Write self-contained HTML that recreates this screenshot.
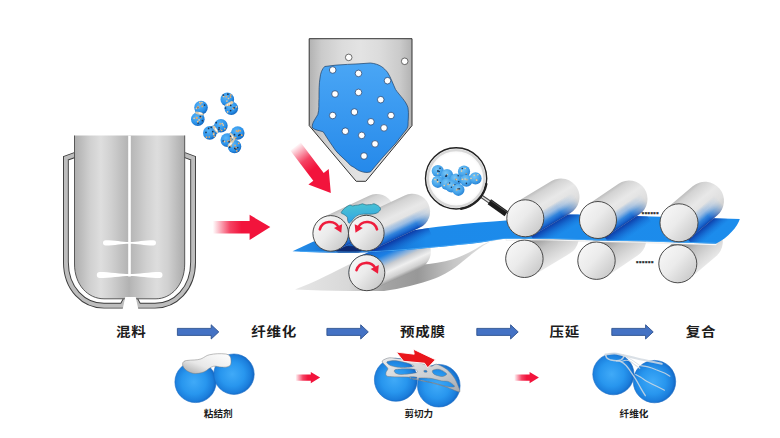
<!DOCTYPE html>
<html lang="zh"><head><meta charset="utf-8"><title>干法电极工艺流程</title>
<style>
html,body{margin:0;padding:0;background:#fff}
body{width:780px;height:438px;overflow:hidden;font-family:"Liberation Sans","Noto Sans CJK SC",sans-serif}
svg{display:block}
text{font-family:"Liberation Sans","Noto Sans CJK SC",sans-serif;font-weight:bold;fill:#1c1c1c}
</style></head><body>
<svg width="780" height="438" viewBox="0 0 780 438">
<defs>
<linearGradient id="tankL" x1="0" x2="1" y1="0" y2="0"><stop offset="0" stop-color="#aeaeae"/><stop offset="0.28" stop-color="#d0d0d0"/><stop offset="0.47" stop-color="#dedede"/><stop offset="0.66" stop-color="#d0d0d0"/><stop offset="1" stop-color="#b0b0b0"/></linearGradient>
<linearGradient id="tankR" x1="0" x2="1" y1="0" y2="0"><stop offset="0" stop-color="#b4b4b4"/><stop offset="0.3" stop-color="#d0d0d0"/><stop offset="0.5" stop-color="#dddddd"/><stop offset="0.7" stop-color="#d0d0d0"/><stop offset="1" stop-color="#ababab"/></linearGradient>
<linearGradient id="hop" x1="0" x2="1" y1="0" y2="0"><stop offset="0" stop-color="#b2b2b2"/><stop offset="0.12" stop-color="#cbcbcb"/><stop offset="0.32" stop-color="#dcdcdc"/><stop offset="0.5" stop-color="#e3e3e3"/><stop offset="0.68" stop-color="#dcdcdc"/><stop offset="0.88" stop-color="#cbcbcb"/><stop offset="1" stop-color="#b2b2b2"/></linearGradient>
<linearGradient id="blob" x1="0" x2="0" y1="0" y2="1"><stop offset="0" stop-color="#4aa6f5"/><stop offset="1" stop-color="#2589ea"/></linearGradient>
<linearGradient id="redH" x1="0" x2="1" y1="0" y2="0"><stop offset="0" stop-color="#f2143c" stop-opacity="0"/><stop offset="0.3" stop-color="#f2143c" stop-opacity="0.8"/><stop offset="0.5" stop-color="#f2143c"/></linearGradient>
<linearGradient id="redD" gradientUnits="userSpaceOnUse" x1="295" y1="146" x2="331" y2="193"><stop offset="0" stop-color="#f2143c" stop-opacity="0"/><stop offset="0.3" stop-color="#f2143c" stop-opacity="0.8"/><stop offset="0.5" stop-color="#f2143c"/></linearGradient>
<linearGradient id="face" x1="0.1" y1="0.15" x2="0.9" y2="0.85"><stop offset="0" stop-color="#f6f6f6"/><stop offset="0.45" stop-color="#ebebeb"/><stop offset="0.75" stop-color="#d9d9d9"/><stop offset="1" stop-color="#cacaca"/></linearGradient>
<radialGradient id="sph" cx="0.46" cy="0.5" r="0.54"><stop offset="0" stop-color="#40aaf8"/><stop offset="0.55" stop-color="#2896ee"/><stop offset="0.85" stop-color="#1b7edc"/><stop offset="1" stop-color="#1466c2"/></radialGradient>
<radialGradient id="sphs" cx="0.4" cy="0.35" r="0.65"><stop offset="0" stop-color="#5cb6f8"/><stop offset="0.7" stop-color="#2a92ea"/><stop offset="1" stop-color="#1468c0"/></radialGradient>
<linearGradient id="film" gradientUnits="userSpaceOnUse" x1="291" y1="0" x2="740" y2="0"><stop offset="0" stop-color="#2a92ec"/><stop offset="0.05" stop-color="#1e82e0"/><stop offset="0.12" stop-color="#0f56b4"/><stop offset="0.2" stop-color="#136cce"/><stop offset="0.3" stop-color="#1c8aea"/><stop offset="1" stop-color="#1c8cec"/></linearGradient>
<linearGradient id="sheet" gradientUnits="userSpaceOnUse" x1="296" y1="0" x2="506" y2="0"><stop offset="0" stop-color="#e6e6e6"/><stop offset="0.25" stop-color="#d8d8d8"/><stop offset="0.42" stop-color="#a4a4a4"/><stop offset="0.58" stop-color="#989898"/><stop offset="0.75" stop-color="#c6c6c6"/><stop offset="1" stop-color="#f0f0f0"/></linearGradient>
<linearGradient id="cy" x1="0.3" x2="0.5" y1="0" y2="1"><stop offset="0" stop-color="#4cc4d2"/><stop offset="0.55" stop-color="#3cb2dc"/><stop offset="1" stop-color="#2f9cec"/></linearGradient>
<linearGradient id="web" x1="0" x2="1" y1="0" y2="1"><stop offset="0" stop-color="#ececec"/><stop offset="0.6" stop-color="#c9ccd0"/><stop offset="1" stop-color="#a4a8ae"/></linearGradient>
<linearGradient id="cap" x1="0" x2="1" y1="1" y2="0"><stop offset="0" stop-color="#a8a8a8"/><stop offset="0.4" stop-color="#e8e8e8"/><stop offset="1" stop-color="#ffffff"/></linearGradient>
<filter id="soft" x="-5%" y="-20%" width="110%" height="140%"><feGaussianBlur stdDeviation="0.7"/></filter>
<radialGradient id="sphm" cx="0.4" cy="0.35" r="0.65"><stop offset="0" stop-color="#78c6f6"/><stop offset="0.65" stop-color="#46a4ea"/><stop offset="1" stop-color="#2a84d6"/></radialGradient>
<radialGradient id="lens" cx="0.5" cy="0.5" r="0.5"><stop offset="0.8" stop-color="#ffffff"/><stop offset="1" stop-color="#f0f0f0"/></radialGradient>

<linearGradient id="gt1" gradientUnits="userSpaceOnUse" x1="323.1" y1="217.3" x2="338.3" y2="249.5"><stop offset="0" stop-color="#bebebe"/><stop offset="0.1" stop-color="#d3d3d3"/><stop offset="0.4" stop-color="#e8e8e8"/><stop offset="0.7" stop-color="#dfdfdf"/><stop offset="0.9" stop-color="#cfcfcf"/><stop offset="1" stop-color="#bdbdbd"/></linearGradient><linearGradient id="gt1t" gradientUnits="userSpaceOnUse" x1="323.1" y1="217.3" x2="338.3" y2="249.5"><stop offset="0" stop-color="#2a80dc" stop-opacity="0"/><stop offset="0.55" stop-color="#2a80dc" stop-opacity="0"/><stop offset="0.7" stop-color="#6aa4e6" stop-opacity="0.55"/><stop offset="0.84" stop-color="#2a80dc" stop-opacity="0.95"/><stop offset="0.94" stop-color="#1763cc" stop-opacity="1"/><stop offset="1" stop-color="#0e44aa" stop-opacity="1"/></linearGradient><linearGradient id="gt1m" gradientUnits="userSpaceOnUse" x1="330.7" y1="233.4" x2="392.8" y2="204.2"><stop offset="0" stop-color="#fff"/><stop offset="0.6" stop-color="#fff"/><stop offset="1.0" stop-color="#000"/></linearGradient><mask id="gt1k" maskUnits="userSpaceOnUse" x="295" y="147" width="122" height="122"><rect x="295" y="147" width="122" height="122" fill="url(#gt1m)"/></mask>
<linearGradient id="gt2" gradientUnits="userSpaceOnUse" x1="358.7" y1="217.0" x2="373.9" y2="249.2"><stop offset="0" stop-color="#bebebe"/><stop offset="0.1" stop-color="#d3d3d3"/><stop offset="0.4" stop-color="#e8e8e8"/><stop offset="0.7" stop-color="#dfdfdf"/><stop offset="0.9" stop-color="#cfcfcf"/><stop offset="1" stop-color="#bdbdbd"/></linearGradient><linearGradient id="gt2t" gradientUnits="userSpaceOnUse" x1="358.7" y1="217.0" x2="373.9" y2="249.2"><stop offset="0" stop-color="#2a80dc" stop-opacity="0"/><stop offset="0.55" stop-color="#2a80dc" stop-opacity="0"/><stop offset="0.7" stop-color="#6aa4e6" stop-opacity="0.55"/><stop offset="0.84" stop-color="#2a80dc" stop-opacity="0.95"/><stop offset="0.94" stop-color="#1763cc" stop-opacity="1"/><stop offset="1" stop-color="#0e44aa" stop-opacity="1"/></linearGradient><linearGradient id="gt2m" gradientUnits="userSpaceOnUse" x1="366.3" y1="233.1" x2="428.4" y2="203.9"><stop offset="0" stop-color="#fff"/><stop offset="0.72" stop-color="#fff"/><stop offset="1.0" stop-color="#000"/></linearGradient><mask id="gt2k" maskUnits="userSpaceOnUse" x="331" y="147" width="122" height="122"><rect x="331" y="147" width="122" height="122" fill="url(#gt2m)"/></mask>
<linearGradient id="gb1" gradientUnits="userSpaceOnUse" x1="359.3" y1="256.3" x2="374.3" y2="289.1"><stop offset="0" stop-color="#1668d4"/><stop offset="0.25" stop-color="#1c80e4"/><stop offset="0.42" stop-color="#7fadde"/><stop offset="0.55" stop-color="#c9ccd0"/><stop offset="0.72" stop-color="#efefef"/><stop offset="0.9" stop-color="#d0d0d0"/><stop offset="1" stop-color="#9a9a9a"/></linearGradient>
<linearGradient id="gr1" gradientUnits="userSpaceOnUse" x1="515.8" y1="202.4" x2="534.8" y2="234.2"><stop offset="0" stop-color="#bebebe"/><stop offset="0.1" stop-color="#d3d3d3"/><stop offset="0.4" stop-color="#e8e8e8"/><stop offset="0.7" stop-color="#dfdfdf"/><stop offset="0.9" stop-color="#cfcfcf"/><stop offset="1" stop-color="#bdbdbd"/></linearGradient><linearGradient id="gr1t" gradientUnits="userSpaceOnUse" x1="515.8" y1="202.4" x2="534.8" y2="234.2"><stop offset="0" stop-color="#2a80dc" stop-opacity="0"/><stop offset="0.55" stop-color="#2a80dc" stop-opacity="0"/><stop offset="0.7" stop-color="#6aa4e6" stop-opacity="0.55"/><stop offset="0.84" stop-color="#2a80dc" stop-opacity="0.95"/><stop offset="0.94" stop-color="#1763cc" stop-opacity="1"/><stop offset="1" stop-color="#0e44aa" stop-opacity="1"/></linearGradient><linearGradient id="gr1m" gradientUnits="userSpaceOnUse" x1="525.3" y1="218.3" x2="576.9" y2="187.5"><stop offset="0" stop-color="#fff"/><stop offset="0.55" stop-color="#fff"/><stop offset="0.9" stop-color="#000"/></linearGradient><mask id="gr1k" maskUnits="userSpaceOnUse" x="488" y="140" width="116" height="116"><rect x="488" y="140" width="116" height="116" fill="url(#gr1m)"/></mask>
<linearGradient id="gr2" gradientUnits="userSpaceOnUse" x1="587.6" y1="204.7" x2="608.4" y2="235.3"><stop offset="0" stop-color="#bebebe"/><stop offset="0.1" stop-color="#d3d3d3"/><stop offset="0.4" stop-color="#e8e8e8"/><stop offset="0.7" stop-color="#dfdfdf"/><stop offset="0.9" stop-color="#cfcfcf"/><stop offset="1" stop-color="#bdbdbd"/></linearGradient><linearGradient id="gr2t" gradientUnits="userSpaceOnUse" x1="587.6" y1="204.7" x2="608.4" y2="235.3"><stop offset="0" stop-color="#2a80dc" stop-opacity="0"/><stop offset="0.55" stop-color="#2a80dc" stop-opacity="0"/><stop offset="0.7" stop-color="#6aa4e6" stop-opacity="0.55"/><stop offset="0.84" stop-color="#2a80dc" stop-opacity="0.95"/><stop offset="0.94" stop-color="#1763cc" stop-opacity="1"/><stop offset="1" stop-color="#0e44aa" stop-opacity="1"/></linearGradient><linearGradient id="gr2m" gradientUnits="userSpaceOnUse" x1="598.0" y1="220.0" x2="644.3" y2="188.6"><stop offset="0" stop-color="#fff"/><stop offset="0.55" stop-color="#fff"/><stop offset="0.9" stop-color="#000"/></linearGradient><mask id="gr2k" maskUnits="userSpaceOnUse" x="561" y="146" width="111" height="111"><rect x="561" y="146" width="111" height="111" fill="url(#gr2m)"/></mask>
<linearGradient id="gr3" gradientUnits="userSpaceOnUse" x1="666.7" y1="208.3" x2="691.3" y2="237.3"><stop offset="0" stop-color="#bebebe"/><stop offset="0.1" stop-color="#d3d3d3"/><stop offset="0.4" stop-color="#e8e8e8"/><stop offset="0.7" stop-color="#dfdfdf"/><stop offset="0.9" stop-color="#cfcfcf"/><stop offset="1" stop-color="#bdbdbd"/></linearGradient><linearGradient id="gr3t" gradientUnits="userSpaceOnUse" x1="666.7" y1="208.3" x2="691.3" y2="237.3"><stop offset="0" stop-color="#2a80dc" stop-opacity="0"/><stop offset="0.55" stop-color="#2a80dc" stop-opacity="0"/><stop offset="0.7" stop-color="#6aa4e6" stop-opacity="0.55"/><stop offset="0.84" stop-color="#2a80dc" stop-opacity="0.95"/><stop offset="0.94" stop-color="#1763cc" stop-opacity="1"/><stop offset="1" stop-color="#0e44aa" stop-opacity="1"/></linearGradient><linearGradient id="gr3m" gradientUnits="userSpaceOnUse" x1="679.0" y1="222.8" x2="719.5" y2="188.5"><stop offset="0" stop-color="#fff"/><stop offset="0.5" stop-color="#fff"/><stop offset="0.85" stop-color="#000"/></linearGradient><mask id="gr3k" maskUnits="userSpaceOnUse" x="641" y="151" width="110" height="110"><rect x="641" y="151" width="110" height="110" fill="url(#gr3m)"/></mask>
<linearGradient id="gq1" gradientUnits="userSpaceOnUse" x1="514.8" y1="242.7" x2="534.0" y2="274.9"><stop offset="0" stop-color="#8e8e8e"/><stop offset="0.3" stop-color="#a6a6a6"/><stop offset="0.5" stop-color="#c2c2c2"/><stop offset="0.75" stop-color="#d6d6d6"/><stop offset="1" stop-color="#e8e8e8"/></linearGradient>
<linearGradient id="gq2" gradientUnits="userSpaceOnUse" x1="586.0" y1="245.2" x2="607.0" y2="276.2"><stop offset="0" stop-color="#8e8e8e"/><stop offset="0.3" stop-color="#a6a6a6"/><stop offset="0.5" stop-color="#c2c2c2"/><stop offset="0.75" stop-color="#d6d6d6"/><stop offset="1" stop-color="#e8e8e8"/></linearGradient>
<linearGradient id="gq3" gradientUnits="userSpaceOnUse" x1="665.5" y1="249.3" x2="690.1" y2="278.3"><stop offset="0" stop-color="#8e8e8e"/><stop offset="0.3" stop-color="#a6a6a6"/><stop offset="0.5" stop-color="#c2c2c2"/><stop offset="0.75" stop-color="#d6d6d6"/><stop offset="1" stop-color="#e8e8e8"/></linearGradient>
</defs>
<rect width="780" height="438" fill="#fff"/>
<g id="tank">
<path d="M75,154.9 L65.9,158.2 L65.9,262 C65.9,289 84,305.7 104,305.7 L122.3,305.7 L125.6,299.5" fill="none" stroke="#3c3c3c" stroke-width="5.8" stroke-linejoin="miter"/>
<path d="M75,154.9 L65.9,158.2 L65.9,262 C65.9,289 84,305.7 104,305.7 L122.3,305.7 L125.6,299.5" fill="none" stroke="#bdbdbd" stroke-width="3.9" stroke-linejoin="miter"/>
<path d="M184.3,154.9 L193.1,158.2 L193.1,262 C193.1,289 175,305.7 155,305.7 L138.7,305.7 L135.4,299.5" fill="none" stroke="#3c3c3c" stroke-width="5.8" stroke-linejoin="miter"/>
<path d="M184.3,154.9 L193.1,158.2 L193.1,262 C193.1,289 175,305.7 155,305.7 L138.7,305.7 L135.4,299.5" fill="none" stroke="#bdbdbd" stroke-width="3.9" stroke-linejoin="miter"/>
<path d="M74.5,135.5 L130.5,135.5 L130.5,298.8 L104,298.8 C88,298.8 74.5,285 74.5,264 Z" fill="url(#tankL)"/>
<path d="M184.7,135.5 L129.5,135.5 L129.5,298.8 L156,298.8 C171,298.8 184.7,285 184.7,264 Z" fill="url(#tankR)"/>
<path d="M74.5,135.5 L74.5,264 C74.5,285 88,298.8 104,298.8 L156,298.8 C171,298.8 184.7,285 184.7,264 L184.7,135.5" fill="none" stroke="#4a4a4a" stroke-width="0.9"/>
<path d="M125.3,297 L135.7,297 L138.4,309.5 L122.6,309.5 Z" fill="#fff"/>
<rect x="128.2" y="135.5" width="2.6" height="141" fill="#fff"/>
<path d="M105.6,240.20000000000002 C115,240.20000000000002 121.5,241.9 129.5,241.9 C137.5,241.9 144,240.20000000000002 153.4,240.20000000000002 A2.6,2.6 0 0 1 153.4,245.4 C144,245.4 137.5,243.70000000000002 129.5,243.70000000000002 C121.5,243.70000000000002 115,245.4 105.6,245.4 A2.6,2.6 0 0 1 105.6,240.20000000000002Z" fill="#fff"/>
<path d="M99.8,272.0 C108.8,272.0 121.65,274.1 129.65,274.1 C137.65,274.1 150.5,272.0 159.5,272.0 A3.0,3.0 0 0 1 159.5,278.0 C150.5,278.0 137.65,275.9 129.65,275.9 C121.65,275.9 108.8,278.0 99.8,278.0 A3.0,3.0 0 0 1 99.8,272.0Z" fill="#fff"/>
</g>
<g id="particles">
<path d="M197.8,119.3 L201,107.6" fill="none" stroke="#2a8ce6" stroke-width="9" stroke-linecap="round" stroke-linejoin="round"/>
<circle cx="197.8" cy="119.3" r="6.8" fill="url(#sphs)"/>
<circle cx="201" cy="107.6" r="6.8" fill="url(#sphs)"/>
<ellipse cx="199.4" cy="113.4" rx="4.6" ry="1.5" transform="rotate(15 199.4 113.4)" fill="#e9cfa8" opacity="0.9"/>
<ellipse cx="200.2" cy="113.1" rx="2" ry="0.8" transform="rotate(15 199.4 113.4)" fill="#fff" opacity="0.9"/>
<circle cx="198.1" cy="123.1" r="0.85" fill="#1b3556"/>
<circle cx="200.8" cy="117.6" r="0.85" fill="#e6a865"/>
<circle cx="199.1" cy="119.9" r="0.85" fill="#f0c896"/>
<circle cx="197.7" cy="121.7" r="0.85" fill="#f0c896"/>
<circle cx="194.1" cy="118.3" r="0.85" fill="#f0c896"/>
<circle cx="196.5" cy="117.7" r="0.85" fill="#e6a865"/>
<circle cx="200.3" cy="116.6" r="0.85" fill="#1b3556"/>
<circle cx="197.0" cy="117.9" r="0.85" fill="#e6a865"/>
<circle cx="202.4" cy="120.6" r="0.85" fill="#1b3556"/>
<circle cx="196.5" cy="108.4" r="0.85" fill="#f0c896"/>
<circle cx="199.8" cy="102.3" r="0.85" fill="#f0c896"/>
<circle cx="200.5" cy="103.7" r="0.85" fill="#e6a865"/>
<circle cx="202.3" cy="106.4" r="0.85" fill="#e6a865"/>
<circle cx="198.5" cy="107.7" r="0.85" fill="#f0c896"/>
<circle cx="201.9" cy="102.5" r="0.85" fill="#f0c896"/>
<circle cx="197.9" cy="107.5" r="0.85" fill="#1b3556"/>
<circle cx="197.9" cy="106.9" r="0.85" fill="#e6a865"/>
<circle cx="204.6" cy="105.1" r="0.85" fill="#1b3556"/>
<path d="M227.3,99.4 L231.3,108.2" fill="none" stroke="#2a8ce6" stroke-width="9" stroke-linecap="round" stroke-linejoin="round"/>
<circle cx="227.3" cy="99.4" r="6.8" fill="url(#sphs)"/>
<circle cx="231.3" cy="108.2" r="6.8" fill="url(#sphs)"/>
<ellipse cx="229.3" cy="103.8" rx="4.6" ry="1.5" transform="rotate(156 229.3 103.8)" fill="#e9cfa8" opacity="0.9"/>
<ellipse cx="230.1" cy="103.5" rx="2" ry="0.8" transform="rotate(156 229.3 103.8)" fill="#fff" opacity="0.9"/>
<circle cx="230.8" cy="94.9" r="0.85" fill="#e6a865"/>
<circle cx="226.4" cy="96.7" r="0.85" fill="#e6a865"/>
<circle cx="230.5" cy="97.2" r="0.85" fill="#e6a865"/>
<circle cx="223.4" cy="95.2" r="0.85" fill="#1b3556"/>
<circle cx="226.9" cy="101.0" r="0.85" fill="#f0c896"/>
<circle cx="231.5" cy="102.0" r="0.85" fill="#f0c896"/>
<circle cx="228.5" cy="98.5" r="0.85" fill="#f0c896"/>
<circle cx="227.9" cy="94.2" r="0.85" fill="#1b3556"/>
<circle cx="223.6" cy="96.5" r="0.85" fill="#f0c896"/>
<circle cx="230.7" cy="105.4" r="0.85" fill="#1b3556"/>
<circle cx="225.5" cy="108.0" r="0.85" fill="#1b3556"/>
<circle cx="233.1" cy="108.3" r="0.85" fill="#e6a865"/>
<circle cx="233.5" cy="108.6" r="0.85" fill="#f0c896"/>
<circle cx="230.6" cy="110.6" r="0.85" fill="#1b3556"/>
<circle cx="234.1" cy="107.8" r="0.85" fill="#1b3556"/>
<circle cx="236.4" cy="106.8" r="0.85" fill="#f0c896"/>
<circle cx="227.6" cy="111.8" r="0.85" fill="#f0c896"/>
<circle cx="228.8" cy="105.1" r="0.85" fill="#e6a865"/>
<path d="M209.8,132.9 L220.9,125.7" fill="none" stroke="#2a8ce6" stroke-width="9" stroke-linecap="round" stroke-linejoin="round"/>
<circle cx="209.8" cy="132.9" r="6.8" fill="url(#sphs)"/>
<circle cx="220.9" cy="125.7" r="6.8" fill="url(#sphs)"/>
<ellipse cx="215.4" cy="129.3" rx="4.6" ry="1.5" transform="rotate(57 215.4 129.3)" fill="#e9cfa8" opacity="0.9"/>
<ellipse cx="216.2" cy="129.0" rx="2" ry="0.8" transform="rotate(57 215.4 129.3)" fill="#fff" opacity="0.9"/>
<circle cx="214.3" cy="136.3" r="0.85" fill="#e6a865"/>
<circle cx="209.2" cy="137.0" r="0.85" fill="#e6a865"/>
<circle cx="212.8" cy="131.6" r="0.85" fill="#1b3556"/>
<circle cx="206.0" cy="132.4" r="0.85" fill="#1b3556"/>
<circle cx="211.2" cy="127.3" r="0.85" fill="#1b3556"/>
<circle cx="213.8" cy="133.4" r="0.85" fill="#e6a865"/>
<circle cx="213.6" cy="134.4" r="0.85" fill="#f0c896"/>
<circle cx="206.5" cy="137.2" r="0.85" fill="#e6a865"/>
<circle cx="208.6" cy="128.4" r="0.85" fill="#1b3556"/>
<circle cx="216.2" cy="122.7" r="0.85" fill="#1b3556"/>
<circle cx="223.3" cy="125.1" r="0.85" fill="#f0c896"/>
<circle cx="219.7" cy="129.5" r="0.85" fill="#e6a865"/>
<circle cx="219.1" cy="127.8" r="0.85" fill="#1b3556"/>
<circle cx="222.3" cy="123.6" r="0.85" fill="#f0c896"/>
<circle cx="224.8" cy="128.7" r="0.85" fill="#e6a865"/>
<circle cx="220.1" cy="123.9" r="0.85" fill="#e6a865"/>
<circle cx="221.7" cy="130.5" r="0.85" fill="#e6a865"/>
<circle cx="218.9" cy="129.5" r="0.85" fill="#1b3556"/>
<path d="M237.7,133 L227.3,140.1 L234.5,146.5" fill="none" stroke="#2a8ce6" stroke-width="9" stroke-linecap="round" stroke-linejoin="round"/>
<circle cx="237.7" cy="133" r="6.8" fill="url(#sphs)"/>
<circle cx="227.3" cy="140.1" r="6.8" fill="url(#sphs)"/>
<circle cx="234.5" cy="146.5" r="6.8" fill="url(#sphs)"/>
<ellipse cx="232.5" cy="136.6" rx="4.6" ry="1.5" transform="rotate(236 232.5 136.6)" fill="#e9cfa8" opacity="0.9"/>
<ellipse cx="233.3" cy="136.2" rx="2" ry="0.8" transform="rotate(236 232.5 136.6)" fill="#fff" opacity="0.9"/>
<ellipse cx="230.9" cy="143.3" rx="4.6" ry="1.5" transform="rotate(132 230.9 143.3)" fill="#e9cfa8" opacity="0.9"/>
<ellipse cx="231.7" cy="143.0" rx="2" ry="0.8" transform="rotate(132 230.9 143.3)" fill="#fff" opacity="0.9"/>
<circle cx="239.9" cy="134.7" r="0.85" fill="#1b3556"/>
<circle cx="236.6" cy="130.9" r="0.85" fill="#e6a865"/>
<circle cx="241.8" cy="135.2" r="0.85" fill="#e6a865"/>
<circle cx="240.2" cy="130.8" r="0.85" fill="#e6a865"/>
<circle cx="238.0" cy="131.5" r="0.85" fill="#e6a865"/>
<circle cx="235.7" cy="137.6" r="0.85" fill="#e6a865"/>
<circle cx="238.8" cy="135.4" r="0.85" fill="#1b3556"/>
<circle cx="238.7" cy="130.3" r="0.85" fill="#e6a865"/>
<circle cx="234.5" cy="134.7" r="0.85" fill="#1b3556"/>
<circle cx="223.2" cy="141.0" r="0.85" fill="#1b3556"/>
<circle cx="224.5" cy="141.6" r="0.85" fill="#f0c896"/>
<circle cx="228.1" cy="141.2" r="0.85" fill="#e6a865"/>
<circle cx="230.6" cy="139.8" r="0.85" fill="#e6a865"/>
<circle cx="230.6" cy="140.8" r="0.85" fill="#e6a865"/>
<circle cx="231.0" cy="139.2" r="0.85" fill="#e6a865"/>
<circle cx="230.6" cy="136.2" r="0.85" fill="#1b3556"/>
<circle cx="229.1" cy="141.8" r="0.85" fill="#1b3556"/>
<circle cx="230.9" cy="137.6" r="0.85" fill="#e6a865"/>
<circle cx="238.7" cy="143.3" r="0.85" fill="#e6a865"/>
<circle cx="237.8" cy="147.6" r="0.85" fill="#1b3556"/>
<circle cx="235.8" cy="148.9" r="0.85" fill="#1b3556"/>
<circle cx="231.3" cy="146.0" r="0.85" fill="#e6a865"/>
<circle cx="235.9" cy="147.8" r="0.85" fill="#e6a865"/>
<circle cx="229.7" cy="147.2" r="0.85" fill="#1b3556"/>
<circle cx="234.8" cy="148.4" r="0.85" fill="#1b3556"/>
<circle cx="236.8" cy="150.8" r="0.85" fill="#e6a865"/>
<circle cx="235.1" cy="145.3" r="0.85" fill="#e6a865"/>
</g>
<path d="M212.8,220.9 L249.6,220.9 L249.6,214.8 L270.3,227.1 L249.6,239.9 L249.6,233.5 L212.8,233.5Z" fill="url(#redH)"/>
<path d="M290.3,150.4 L313.3,180.8 L308.4,184.5 L330.8,193.0 L328.7,169.1 L323.7,172.9 L300.7,142.6Z" fill="url(#redD)"/>
<g id="hopper">
<path d="M309.2,38.7 L412,38.7 L412,125.6 L365.8,181.3 L356.2,181.3 L309.2,125.6Z" fill="url(#hop)" stroke="#333" stroke-width="1"/>
<path d="M324.7,66.5 C340,64 355,64.5 370.4,63 C380,64 384,68 387.5,72.3 C391,78 393,84 395.5,89.4 C400,96 406,101 408,107.7 C409,114 408,120 408,126 L407,128.6 L395.5,143.4 L383,157 L370.4,172 C366,173.2 361,172 357,169.6 C354,167 352,166.5 350.6,165.5 C346,160 340,156 335.5,150.4 C331,144 327,138 323.2,131.8 C319,130.5 315,130 312.5,128 C311.5,124 314,121 317.8,114.5 C319.5,109 318.5,104 319,98.5 C319,91 319,84 320,78 C320.5,73 322,69 324.7,66.5Z" fill="url(#blob)" stroke="#1d3f66" stroke-width="0.7"/>
<circle cx="348.7" cy="57.4" r="3.3" fill="#fff" stroke="#333" stroke-width="0.7"/>
<circle cx="404.7" cy="61.3" r="3.3" fill="#fff" stroke="#333" stroke-width="0.7"/>
<circle cx="332.7" cy="70" r="3.3" fill="#fff" stroke="#23426e" stroke-width="0.75"/>
<circle cx="358.5" cy="73.4" r="3.3" fill="#fff" stroke="#23426e" stroke-width="0.75"/>
<circle cx="387.5" cy="80.7" r="3.3" fill="#fff" stroke="#23426e" stroke-width="0.75"/>
<circle cx="335" cy="94" r="3.3" fill="#fff" stroke="#23426e" stroke-width="0.75"/>
<circle cx="358.5" cy="92.4" r="3.3" fill="#fff" stroke="#23426e" stroke-width="0.75"/>
<circle cx="380.7" cy="99.7" r="3.3" fill="#fff" stroke="#23426e" stroke-width="0.75"/>
<circle cx="332.7" cy="115.5" r="3.3" fill="#fff" stroke="#23426e" stroke-width="0.75"/>
<circle cx="354.4" cy="112" r="3.3" fill="#fff" stroke="#23426e" stroke-width="0.75"/>
<circle cx="391" cy="115.5" r="3.3" fill="#fff" stroke="#23426e" stroke-width="0.75"/>
<circle cx="370.9" cy="121.8" r="3.3" fill="#fff" stroke="#23426e" stroke-width="0.75"/>
<circle cx="384" cy="127.9" r="3.3" fill="#fff" stroke="#23426e" stroke-width="0.75"/>
<circle cx="345.3" cy="131.2" r="3.3" fill="#fff" stroke="#23426e" stroke-width="0.75"/>
<circle cx="361.7" cy="135.4" r="3.3" fill="#fff" stroke="#23426e" stroke-width="0.75"/>
<circle cx="375" cy="143.9" r="3.3" fill="#fff" stroke="#23426e" stroke-width="0.75"/>
<circle cx="364" cy="156" r="3.3" fill="#fff" stroke="#23426e" stroke-width="0.75"/>
</g>
<path d="M295,289.6 C315,282 335,271.5 349,264.5 L384,262 L420,264.8 C432,264 443,262 453,259.3 C464,255.5 474,250 482.4,244.7 C490,241 498,239 506,238.3 C500,239.5 495,240.5 489.7,242 C480,247 471,254.5 462,262 C453,269.5 445,274.5 434.8,278.5 C420,284 400,289 384,291 L349,291 C330,291 312,290.5 295,289.6Z" fill="url(#sheet)" filter="url(#soft)"/>
<path d="M359.3,256.3 L405.3,235.3 A18,18 0 0 1 420.3,268.1 L374.3,289.1 A18,18 0 0 1 359.3,256.3Z" fill="url(#gb1)" />
<path d="M514.8,242.7 L550.5,221.4 A18.7,18.7 0 0 1 569.7,253.6 L534.0,274.9 A18.7,18.7 0 0 1 514.8,242.7Z" fill="url(#gq1)" />
<path d="M586.0,245.2 L617.0,224.2 A18.7,18.7 0 0 1 638.0,255.2 L607.0,276.2 A18.7,18.7 0 0 1 586.0,245.2Z" fill="url(#gq2)" />
<path d="M665.5,249.3 L691.5,227.3 A19,19 0 0 1 716.1,256.3 L690.1,278.3 A19,19 0 0 1 665.5,249.3Z" fill="url(#gq3)" />
<path d="M506,240.3 L545,240.3 L600,242.1 L640,242.7 L715.8,245.2 L718,243.5 L506,238.5Z" fill="#fff" stroke="#ccc" stroke-width="0.3"/>
<clipPath id="filmclip"><path d="M292.5,251.2 L313.5,241.5 L349,238 L414,230.2 C425,228.6 436,227 445,226 C470,223 490,221.5 506,220.4 C530,217.5 550,214.8 566,214.5 C590,214.3 615,215.3 634,216 L739.8,219 C738,226 728,238 715.8,243.7 L640,241.2 L600,240.6 L545,238.8 L506,238.8 C498,239.5 493,240.3 489,241.2 C478,243 468,244 460,244.8 C450,246 440,247 430,247.7 C420,248.8 410,249.7 400,250.4 C385,251.6 365,252.6 349,252.7 C330,252.7 310,252.3 292.5,251.2Z"/></clipPath>
<path d="M292.5,251.2 L313.5,241.5 L349,238 L414,230.2 C425,228.6 436,227 445,226 C470,223 490,221.5 506,220.4 C530,217.5 550,214.8 566,214.5 C590,214.3 615,215.3 634,216 L739.8,219 C738,226 728,238 715.8,243.7 L640,241.2 L600,240.6 L545,238.8 L506,238.8 C498,239.5 493,240.3 489,241.2 C478,243 468,244 460,244.8 C450,246 440,247 430,247.7 C420,248.8 410,249.7 400,250.4 C385,251.6 365,252.6 349,252.7 C330,252.7 310,252.3 292.5,251.2Z" fill="url(#film)"/>
<g clip-path="url(#filmclip)">
<ellipse cx="348.6" cy="250.2" rx="13" ry="4.2" fill="#0a2266" opacity="0.85" filter="url(#soft)"/>
<linearGradient id="sh1" gradientUnits="userSpaceOnUse" x1="530.6" y1="234.9" x2="538.3" y2="247.8"><stop offset="0" stop-color="#0a1f8c" stop-opacity="0.85"/><stop offset="0.35" stop-color="#0b3aa8" stop-opacity="0.59"/><stop offset="1" stop-color="#1468d0" stop-opacity="0"/></linearGradient><path d="M530.6,234.9 L575.1,208.4 L582.8,221.3 L538.3,247.8Z" fill="url(#sh1)"/>
<linearGradient id="sh2" gradientUnits="userSpaceOnUse" x1="604.2" y1="236.3" x2="612.6" y2="248.7"><stop offset="0" stop-color="#0a1f8c" stop-opacity="0.85"/><stop offset="0.35" stop-color="#0b3aa8" stop-opacity="0.59"/><stop offset="1" stop-color="#1468d0" stop-opacity="0"/></linearGradient><path d="M604.2,236.3 L643.2,209.9 L651.6,222.3 L612.6,248.7Z" fill="url(#sh2)"/>
<linearGradient id="sh3" gradientUnits="userSpaceOnUse" x1="687.3" y1="238.7" x2="695.6" y2="248.7"><stop offset="0" stop-color="#0a1f8c" stop-opacity="0.85"/><stop offset="0.35" stop-color="#0b3aa8" stop-opacity="0.59"/><stop offset="1" stop-color="#1468d0" stop-opacity="0"/></linearGradient><path d="M687.3,238.7 L720.2,210.9 L728.6,220.8 L695.6,248.7Z" fill="url(#sh3)"/>
<linearGradient id="sh0" gradientUnits="userSpaceOnUse" x1="369.6" y1="249.6" x2="375.6" y2="262.2"><stop offset="0" stop-color="#0a1f8c" stop-opacity="0.9"/><stop offset="0.35" stop-color="#0b3aa8" stop-opacity="0.63"/><stop offset="1" stop-color="#1468d0" stop-opacity="0"/></linearGradient><path d="M369.6,249.6 L426.1,223.0 L432.1,235.7 L375.6,262.2Z" fill="url(#sh0)"/>
<path d="M300,251.5 L349,252.2 C365,252.2 385,251.2 400,250 C440,246.6 470,243.6 489,240.8 L506,238.4 L545,238.4 L600,240.2 L640,240.8 L715.8,243.3" fill="none" stroke="#4aa8f4" stroke-width="0.9"/>
</g>
<circle cx="366.8" cy="272.7" r="18" fill="url(#face)" stroke="#3a3a3a" stroke-width="0.9"/>
<circle cx="524.4" cy="258.8" r="18.7" fill="url(#face)" stroke="#3a3a3a" stroke-width="0.9"/>
<circle cx="596.5" cy="260.7" r="18.7" fill="url(#face)" stroke="#3a3a3a" stroke-width="0.9"/>
<circle cx="677.8" cy="263.8" r="19" fill="url(#face)" stroke="#3a3a3a" stroke-width="0.9"/>
<path d="M323.1,217.3 L369.1,195.7 A17.8,17.8 0 0 1 384.3,227.9 L338.3,249.5 A17.8,17.8 0 0 1 323.1,217.3Z" fill="url(#gt1)" /><path d="M323.1,217.3 L369.1,195.7 A17.8,17.8 0 0 1 384.3,227.9 L338.3,249.5 A17.8,17.8 0 0 1 323.1,217.3Z" fill="url(#gt1t)" mask="url(#gt1k)"/>
<path d="M358.7,217.0 L404.7,195.4 A17.8,17.8 0 0 1 419.9,227.6 L373.9,249.2 A17.8,17.8 0 0 1 358.7,217.0Z" fill="url(#gt2)" /><path d="M358.7,217.0 L404.7,195.4 A17.8,17.8 0 0 1 419.9,227.6 L373.9,249.2 A17.8,17.8 0 0 1 358.7,217.0Z" fill="url(#gt2t)" mask="url(#gt2k)"/>
<path d="M515.8,202.4 L551.5,181.1 A18.5,18.5 0 0 1 570.5,212.9 L534.8,234.2 A18.5,18.5 0 0 1 515.8,202.4Z" fill="url(#gr1)" /><path d="M515.8,202.4 L551.5,181.1 A18.5,18.5 0 0 1 570.5,212.9 L534.8,234.2 A18.5,18.5 0 0 1 515.8,202.4Z" fill="url(#gr1t)" mask="url(#gr1k)"/>
<path d="M587.6,204.7 L618.6,183.7 A18.5,18.5 0 0 1 639.4,214.3 L608.4,235.3 A18.5,18.5 0 0 1 587.6,204.7Z" fill="url(#gr2)" /><path d="M587.6,204.7 L618.6,183.7 A18.5,18.5 0 0 1 639.4,214.3 L608.4,235.3 A18.5,18.5 0 0 1 587.6,204.7Z" fill="url(#gr2t)" mask="url(#gr2k)"/>
<path d="M666.7,208.3 L692.7,186.3 A19,19 0 0 1 717.3,215.3 L691.3,237.3 A19,19 0 0 1 666.7,208.3Z" fill="url(#gr3)" /><path d="M666.7,208.3 L692.7,186.3 A19,19 0 0 1 717.3,215.3 L691.3,237.3 A19,19 0 0 1 666.7,208.3Z" fill="url(#gr3t)" mask="url(#gr3k)"/>
<path d="M341.2,212.7 C341.3,211.8 343.4,209.4 344.6,208.3 C345.8,207.2 348.2,205.6 349.4,205.2 C350.6,204.8 351.6,205.9 352.5,205.9 C353.4,205.9 354.5,205.5 355.5,205.3 C356.5,205.2 358.0,205.1 359.0,204.9 C360.0,204.7 361.3,203.8 362.4,203.8 C363.4,203.8 365.0,204.8 366.0,204.9 C367.0,205.0 368.4,204.7 369.2,204.7 C370.0,204.7 370.8,204.7 371.5,204.6 C372.2,204.5 372.9,203.6 374.0,203.8 C375.1,204.0 377.8,205.4 378.8,206.2 C379.8,207.0 380.7,208.3 380.5,209.3 C380.3,210.3 378.8,212.0 377.5,212.7 C376.2,213.4 373.9,213.9 372.0,214.1 C370.1,214.3 367.2,213.9 365.1,214.1 C363.0,214.2 359.9,214.5 358.3,215.1 C356.7,215.7 355.2,217.0 354.2,217.9 C353.2,218.8 352.2,220.5 351.4,221.3 C350.6,222.1 349.6,223.3 349.0,223.2 C348.4,223.1 348.0,221.5 347.7,220.6 C347.4,219.7 347.9,218.1 347.3,217.2 C346.7,216.3 344.8,215.1 343.9,214.4 C343.0,213.7 341.1,213.6 341.2,212.7Z" fill="url(#cy)" stroke="#2a6e84" stroke-width="0.7"/>
<circle cx="330.7" cy="233.4" r="17.8" fill="url(#face)" stroke="#3a3a3a" stroke-width="0.9"/>
<circle cx="366.3" cy="233.1" r="17.8" fill="url(#face)" stroke="#3a3a3a" stroke-width="0.9"/>
<circle cx="525.3" cy="218.3" r="18.5" fill="url(#face)" stroke="#3a3a3a" stroke-width="0.9"/>
<circle cx="598" cy="220" r="18.5" fill="url(#face)" stroke="#3a3a3a" stroke-width="0.9"/>
<circle cx="679" cy="222.8" r="19" fill="url(#face)" stroke="#3a3a3a" stroke-width="0.9"/>
<path d="M319.8,229.3 A10.3,10.3 0 0 1 338.9,227.8" fill="none" stroke="#ee1c3c" stroke-width="2.6" stroke-linecap="round"/><path d="M341.3,232.8 L334.0,228.1 L342.1,224.2Z" fill="#ee1c3c"/>
<path d="M377.0,229.3 A10.3,10.3 0 0 0 357.9,227.8" fill="none" stroke="#ee1c3c" stroke-width="2.6" stroke-linecap="round"/><path d="M355.5,232.8 L354.7,224.2 L362.8,228.1Z" fill="#ee1c3c"/>
<path d="M356.5,270.2 A10.3,10.3 0 0 1 375.6,268.7" fill="none" stroke="#ee1c3c" stroke-width="2.6" stroke-linecap="round"/><path d="M378.0,273.7 L370.7,269.0 L378.8,265.1Z" fill="#ee1c3c"/>
<text x="641.6" y="213.7" font-size="10.3" fill="#3a3a3a" stroke="#3a3a3a" stroke-width="0.55">......</text>
<text x="635.8" y="262.6" font-size="10.8" fill="#3a3a3a" stroke="#3a3a3a" stroke-width="0.55">......</text>
<g id="mag">
<path d="M479.5,195 L490.5,202.6" stroke="#4a4a4a" stroke-width="3.6"/>
<path d="M479.5,195 L490.5,202.6" stroke="#e0e0e0" stroke-width="1.5"/>
<path d="M489.4,201.8 L506.3,213.8" stroke="#1c1c1c" stroke-width="6"/>
<path d="M490.4,200.3 L507.3,212.3" stroke="#4a4a4a" stroke-width="1"/>
<circle cx="456.1" cy="178.4" r="30.6" fill="url(#lens)" stroke="#222" stroke-width="1.4"/>
<path d="M486.2,184 A30.6,30.6 0 0 1 461,208.6" fill="none" stroke="#222" stroke-width="2.6" stroke-linecap="round"/>
<circle cx="456.1" cy="178.4" r="28.3" fill="none" stroke="#d8d8d8" stroke-width="2.4"/>
<circle cx="437.8" cy="171" r="6.1" fill="url(#sphm)"/><circle cx="437.9" cy="170.8" r="0.8" fill="#1c3a5e"/><circle cx="437.8" cy="173.8" r="0.8" fill="#f0d0a0"/><circle cx="439.2" cy="171.5" r="0.8" fill="#1c3a5e"/><circle cx="440.0" cy="168.2" r="0.8" fill="#1c3a5e"/><circle cx="438.0" cy="171.2" r="0.8" fill="#1c3a5e"/>
<circle cx="447" cy="175" r="6.1" fill="url(#sphm)"/><circle cx="447.2" cy="174.7" r="0.8" fill="#f0d0a0"/><circle cx="446.4" cy="176.3" r="0.8" fill="#1c3a5e"/><circle cx="445.7" cy="176.2" r="0.8" fill="#1c3a5e"/><circle cx="446.4" cy="175.7" r="0.8" fill="#1c3a5e"/><circle cx="446.5" cy="175.3" r="0.8" fill="#1c3a5e"/>
<circle cx="437.8" cy="181.8" r="6.1" fill="url(#sphm)"/><circle cx="437.4" cy="180.1" r="0.8" fill="#1c3a5e"/><circle cx="437.6" cy="181.7" r="0.8" fill="#f0d0a0"/><circle cx="435.0" cy="179.6" r="0.8" fill="#f0d0a0"/><circle cx="437.7" cy="181.6" r="0.8" fill="#f0d0a0"/><circle cx="440.5" cy="182.7" r="0.8" fill="#1c3a5e"/>
<circle cx="447" cy="184" r="6.1" fill="url(#sphm)"/><circle cx="444.2" cy="185.5" r="0.8" fill="#f0d0a0"/><circle cx="448.0" cy="184.1" r="0.8" fill="#1c3a5e"/><circle cx="446.9" cy="183.7" r="0.8" fill="#f0d0a0"/><circle cx="447.1" cy="184.6" r="0.8" fill="#1c3a5e"/><circle cx="448.6" cy="183.3" r="0.8" fill="#1c3a5e"/>
<circle cx="464" cy="171.5" r="6.1" fill="url(#sphm)"/><circle cx="466.3" cy="173.7" r="0.8" fill="#f0d0a0"/><circle cx="462.3" cy="168.6" r="0.8" fill="#1c3a5e"/><circle cx="465.2" cy="168.5" r="0.8" fill="#f0d0a0"/><circle cx="466.2" cy="174.3" r="0.8" fill="#1c3a5e"/><circle cx="461.5" cy="171.1" r="0.8" fill="#f0d0a0"/>
<circle cx="456" cy="179.5" r="6.1" fill="url(#sphm)"/><circle cx="456.0" cy="179.6" r="0.8" fill="#1c3a5e"/><circle cx="456.5" cy="179.6" r="0.8" fill="#f0d0a0"/><circle cx="458.2" cy="175.8" r="0.8" fill="#1c3a5e"/><circle cx="456.0" cy="179.3" r="0.8" fill="#e8b27a"/><circle cx="458.7" cy="181.6" r="0.8" fill="#1c3a5e"/>
<circle cx="466.4" cy="180.7" r="6.1" fill="url(#sphm)"/><circle cx="462.6" cy="179.5" r="0.8" fill="#e8b27a"/><circle cx="466.9" cy="179.7" r="0.8" fill="#e8b27a"/><circle cx="465.1" cy="179.1" r="0.8" fill="#f0d0a0"/><circle cx="466.4" cy="183.4" r="0.8" fill="#1c3a5e"/><circle cx="462.3" cy="179.2" r="0.8" fill="#f0d0a0"/>
<circle cx="475.5" cy="178.4" r="6.1" fill="url(#sphm)"/><circle cx="471.0" cy="178.4" r="0.8" fill="#f0d0a0"/><circle cx="477.9" cy="174.7" r="0.8" fill="#f0d0a0"/><circle cx="474.2" cy="175.2" r="0.8" fill="#f0d0a0"/><circle cx="476.5" cy="179.9" r="0.8" fill="#e8b27a"/><circle cx="476.7" cy="180.3" r="0.8" fill="#f0d0a0"/>
<circle cx="451.5" cy="186.4" r="6.1" fill="url(#sphm)"/><circle cx="453.5" cy="185.2" r="0.8" fill="#f0d0a0"/><circle cx="448.1" cy="184.4" r="0.8" fill="#e8b27a"/><circle cx="451.4" cy="187.3" r="0.8" fill="#1c3a5e"/><circle cx="455.1" cy="184.8" r="0.8" fill="#1c3a5e"/><circle cx="449.6" cy="183.0" r="0.8" fill="#1c3a5e"/>
<circle cx="458.4" cy="189.8" r="6.1" fill="url(#sphm)"/><circle cx="459.5" cy="188.9" r="0.8" fill="#1c3a5e"/><circle cx="456.7" cy="190.0" r="0.8" fill="#e8b27a"/><circle cx="457.4" cy="189.3" r="0.8" fill="#f0d0a0"/><circle cx="458.5" cy="189.2" r="0.8" fill="#f0d0a0"/><circle cx="458.1" cy="188.9" r="0.8" fill="#1c3a5e"/>
</g>
<text transform="translate(115.9,336.0) scale(1,0.89)" font-size="14.5" letter-spacing="0.75">混料</text>
<text transform="translate(251.3,336.0) scale(1,0.89)" font-size="14.5" letter-spacing="0.75">纤维化</text>
<text transform="translate(399.9,336.0) scale(1,0.89)" font-size="14.5" letter-spacing="0.75">预成膜</text>
<text transform="translate(549.4,336.0) scale(1,0.89)" font-size="14.5" letter-spacing="0.75">压延</text>
<text transform="translate(685.7,336.0) scale(1,0.89)" font-size="14.5" letter-spacing="0.75">复合</text>
<path d="M177.4,328.4 L211.2,328.4 L211.2,324.8 L218.8,331.9 L211.2,339 L211.2,335.4 L177.4,335.4Z" fill="#4472c4" stroke="#2f528f" stroke-width="0.9"/>
<path d="M326.9,328.4 L360.7,328.4 L360.7,324.8 L368.29999999999995,331.9 L360.7,339 L360.7,335.4 L326.9,335.4Z" fill="#4472c4" stroke="#2f528f" stroke-width="0.9"/>
<path d="M476.8,328.4 L510.6,328.4 L510.6,324.8 L518.2,331.9 L510.6,339 L510.6,335.4 L476.8,335.4Z" fill="#4472c4" stroke="#2f528f" stroke-width="0.9"/>
<path d="M611.8,328.4 L645.5999999999999,328.4 L645.5999999999999,324.8 L653.1999999999999,331.9 L645.5999999999999,339 L645.5999999999999,335.4 L611.8,335.4Z" fill="#4472c4" stroke="#2f528f" stroke-width="0.9"/>
<g id="d1">
<circle cx="195.5" cy="382" r="20.6" fill="url(#sph)" stroke="#1a6cc4" stroke-width="0.6"/>
<circle cx="234" cy="374.2" r="20.2" fill="url(#sph)" stroke="#1a6cc4" stroke-width="0.6"/>
<path d="M182.6,363.6 C183,361.5 184.5,360.8 186.7,360.5 C192,359.8 197,360.3 201,358.9 C204.5,357.5 206,355.4 209.3,354.8 C214.5,353.6 220.5,353.4 225.7,354 C229.5,354.6 230.9,357 230.9,359.5 C231.2,362 231.2,364.5 229.9,365.7 C227.5,367.3 224.5,367.3 221.6,367.1 C218.8,366.9 216,365.8 213.4,366.3 C209.5,367.3 207.5,370.4 204.2,371.8 C200.5,373.3 196.5,373.9 192.9,373.3 C189.5,372.6 186.5,370.8 184.7,368.8 C183.3,367.2 182.4,365.4 182.6,363.6Z" fill="url(#cap)" stroke="#7c7c7c" stroke-width="0.5"/>
<text x="203.8" y="417.2" font-size="9.6">粘结剂</text>
</g>
<linearGradient id="rs295" gradientUnits="userSpaceOnUse" x1="295.4" y1="0" x2="320.4" y2="0"><stop offset="0" stop-color="#f2143c" stop-opacity="0"/><stop offset="0.3" stop-color="#f2143c" stop-opacity="0.8"/><stop offset="0.5" stop-color="#f2143c"/></linearGradient>
<path d="M295.4,374.5 L310.79999999999995,374.5 L310.79999999999995,372 L320.09999999999997,377.6 L310.79999999999995,383.3 L310.79999999999995,380.7 L295.4,380.7Z" fill="url(#rs295)"/>
<linearGradient id="rs514" gradientUnits="userSpaceOnUse" x1="514.2" y1="0" x2="539.2" y2="0"><stop offset="0" stop-color="#f2143c" stop-opacity="0"/><stop offset="0.3" stop-color="#f2143c" stop-opacity="0.8"/><stop offset="0.5" stop-color="#f2143c"/></linearGradient>
<path d="M514.2,374.5 L529.6,374.5 L529.6,372 L538.9000000000001,377.6 L529.6,383.3 L529.6,380.7 L514.2,380.7Z" fill="url(#rs514)"/>
<g id="d2">
<circle cx="395.9" cy="379.8" r="21.5" fill="url(#sph)" stroke="#1a6cc4" stroke-width="0.6"/>
<circle cx="438.8" cy="385.7" r="21.3" fill="url(#sph)" stroke="#1a6cc4" stroke-width="0.6"/>
<path d="M382.2,361.0 C382.7,360.0 386.9,358.1 389.2,357.8 C391.5,357.5 396.4,358.5 399.5,358.8 C402.6,359.2 409.1,359.7 412.3,360.4 C415.6,361.1 421.3,363.5 423.8,364.2 C426.4,365.0 429.8,366.2 431.5,366.2 C433.2,366.2 434.6,363.8 436.7,364.2 C438.7,364.7 444.5,367.5 446.9,369.4 C449.3,371.2 452.9,375.6 454.6,378.3 C456.3,381.1 459.2,388.1 459.7,389.9 C460.3,391.7 460.2,392.1 458.5,391.8 C456.8,391.5 450.2,388.4 446.9,387.3 C443.7,386.2 437.5,384.4 434.1,383.5 C430.7,382.5 424.2,380.9 421.3,380.3 C418.4,379.7 414.0,379.4 412.3,379.0 C410.6,378.5 411.7,377.4 408.5,377.1 C405.2,376.7 390.9,377.0 387.9,376.4 C385.0,375.8 386.0,373.6 386.0,372.6 C386.0,371.5 388.0,369.7 387.9,368.7 C387.9,367.8 386.2,366.5 385.4,365.5 C384.6,364.5 381.7,362.1 382.2,361.0Z M386.9,361.9 C387.6,361.2 392.5,360.4 395.6,360.6 C398.8,360.9 405.0,362.5 407.8,363.3 C410.6,364.2 415.1,365.6 414.2,366.3 C413.4,366.9 405.5,367.6 402.1,367.6 C398.6,367.5 393.4,366.6 391.2,365.8 C388.9,364.9 386.2,362.7 386.9,361.9Z M395.4,369.6 C397.0,369.1 402.9,368.8 405.9,368.8 C408.9,368.8 414.1,369.0 415.6,369.6 C417.2,370.2 418.6,372.0 416.4,372.7 C414.2,373.4 404.0,374.5 400.8,374.5 C397.5,374.4 395.7,373.2 394.9,372.4 C394.1,371.7 393.7,370.2 395.4,369.6Z M423.8,370.6 C424.1,370.4 425.9,370.2 426.4,370.4 C426.9,370.6 427.3,371.7 427.1,371.9 C426.8,372.2 425.0,372.4 424.5,372.2 C424.0,372.0 423.6,370.9 423.8,370.6Z M432.6,370.4 C433.4,369.7 437.4,368.8 439.5,369.4 C441.6,369.9 446.3,372.8 446.7,373.8 C447.1,374.9 443.9,376.5 442.1,376.5 C440.2,376.6 435.5,375.2 434.1,374.2 C432.7,373.3 431.8,371.1 432.6,370.4Z M409.7,376.8 C410.5,376.6 415.1,376.8 416.2,377.1 C417.2,377.3 417.6,378.4 416.8,378.6 C416.0,378.8 412.1,378.9 411.0,378.6 C410.0,378.3 409.0,377.0 409.7,376.8Z M418.7,378.1 C420.1,377.7 426.8,377.9 430.3,378.3 C433.7,378.8 439.0,380.4 441.8,380.9 C444.6,381.4 446.9,380.8 448.8,381.7 C450.8,382.5 454.9,385.8 454.6,386.5 C454.3,387.3 450.0,387.1 446.9,386.5 C443.8,386.0 438.0,383.8 434.1,382.9 C430.2,382.1 423.1,381.5 420.8,380.8 C418.5,380.0 417.3,378.4 418.7,378.1Z" fill="url(#web)" fill-rule="evenodd" stroke="#6f7680" stroke-width="0.5" stroke-linejoin="round"/>
<path d="M396.3,352.1 L414.2,354.2 L413.3,349.2 L435.4,359.7 L427.7,367.7 L424.5,363.2 L403.6,361.3Z" fill="#e9161c" stroke="#fff" stroke-width="0.9" stroke-linejoin="round"/>
<text x="404.4" y="417.2" font-size="9.6">剪切力</text>
</g>
<g id="d3">
<circle cx="613.4" cy="374.2" r="20.6" fill="url(#sph)" stroke="#1a6cc4" stroke-width="0.6"/>
<circle cx="654.5" cy="381.6" r="21.2" fill="url(#sph)" stroke="#1a6cc4" stroke-width="0.6"/>
<path d="M605.5,354.6 C607.0,354.4 611.5,353.4 614.5,353.5 C617.4,353.6 619.6,354.5 623.4,355.3 C627.1,356.1 632.5,357.4 637.1,358.4 C641.6,359.5 646.6,360.5 650.8,361.4 C654.9,362.3 659.9,363.4 661.7,363.8" fill="none" stroke="#d4dae2" stroke-opacity="0.85" stroke-width="2.1" stroke-linecap="round"/>
<path d="M605.5,354.6 C605.8,355.2 606.0,357.1 606.9,358.0 C607.8,358.9 609.4,359.6 611.0,360.1 C612.6,360.5 614.9,360.8 616.5,360.8 C618.2,360.7 619.7,360.4 620.9,359.8 C622.0,359.2 622.9,358.1 623.4,357.3 C623.8,356.6 623.4,355.6 623.4,355.3" fill="none" stroke="#d4dae2" stroke-opacity="0.85" stroke-width="1.5" stroke-linecap="round"/>
<path d="M616.5,360.8 C617.2,360.9 619.3,360.9 620.9,361.7 C622.5,362.5 624.5,364.0 626.1,365.5 C627.6,367.1 628.6,368.7 630.2,371.0 C631.8,373.3 633.9,376.3 635.7,379.2 C637.5,382.2 639.6,386.1 641.2,388.8 C642.8,391.6 644.6,394.5 645.3,395.7" fill="none" stroke="#d4dae2" stroke-opacity="0.85" stroke-width="1.3" stroke-linecap="round"/>
<path d="M620.9,361.7 C621.8,361.5 624.4,360.3 626.1,360.3 C627.8,360.3 629.3,360.8 630.9,361.7 C632.5,362.6 634.2,364.5 635.7,365.5 C637.2,366.6 639.1,367.8 639.8,368.3" fill="none" stroke="#d4dae2" stroke-opacity="0.85" stroke-width="1.1" stroke-linecap="round"/>
<path d="M623.4,355.3 C624.7,356.0 628.8,358.1 631.6,359.8 C634.3,361.5 638.4,364.6 639.8,365.5" fill="none" stroke="#d4dae2" stroke-opacity="0.85" stroke-width="1.0" stroke-linecap="round"/>
<path d="M639.8,365.5 C641.2,365.8 645.3,366.2 648.0,366.9 C650.8,367.6 653.5,368.6 656.2,369.7 C659.0,370.7 662.2,372.0 664.5,373.1 C666.7,374.2 669.0,375.7 669.9,376.2" fill="none" stroke="#d4dae2" stroke-opacity="0.85" stroke-width="1.1" stroke-linecap="round"/>
<path d="M635.7,374.5 C636.6,375.0 639.3,376.5 641.2,377.6 C643.0,378.7 644.1,379.9 646.6,381.3 C649.2,382.7 653.3,384.6 656.2,386.1 C659.2,387.6 663.1,389.5 664.5,390.2" fill="none" stroke="#d4dae2" stroke-opacity="0.85" stroke-width="1.1" stroke-linecap="round"/>
<text x="619.6" y="417.2" font-size="9.6">纤维化</text>
</g>
</svg></body></html>
